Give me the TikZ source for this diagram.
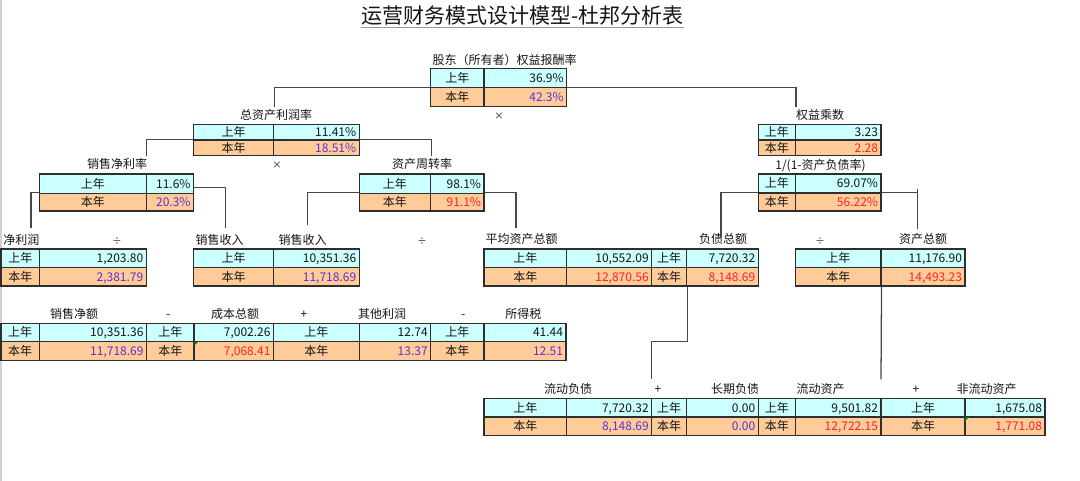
\documentclass[tikz,border=0pt]{standalone}
\usepackage{fontspec}
\setmainfont{Noto Sans CJK SC}
\usetikzlibrary{calc}
\definecolor{cyanc}{HTML}{CCFFFF}
\definecolor{orgc}{HTML}{FFCC99}
\definecolor{purc}{HTML}{5C30D2}
\definecolor{redc}{HTML}{FF2020}
\definecolor{bordc}{HTML}{2E2E2E}
\definecolor{txtc}{HTML}{151515}
\definecolor{connc}{HTML}{474747}
\newcommand\pur{\color{purc}}
\newcommand\rd{\color{redc}}
\tikzset{
  cellbox/.style={draw=bordc, line width=0.8pt, inner xsep=2.25pt, inner ysep=0pt,
    text height=7.7pt, text depth=1pt, font=\fontsize{9pt}{10pt}\selectfont, text=txtc},
  lab/.style={inner xsep=0pt, inner ysep=1.5pt, text height=7.7pt, text depth=1pt,
    font=\fontsize{9pt}{10pt}\selectfont, text=txtc},
  opsign/.style={lab, font=\fontsize{7pt}{8pt}\selectfont},
  conn/.style={draw=connc, line width=0.95pt},
}
% #1 name, #2 x0, #3 x1, #4 x2, #5 y0, #6 y1, #7 y2, #8 top value, #9 bottom value
\newcommand\dpblock[9]{%
  \pgfmathsetmacro\dpwa{(#3-#2)*0.75}%
  \pgfmathsetmacro\dpwb{(#4-#3)*0.75-4.5}%
  \pgfmathsetmacro\dpha{(#6-#5)*0.75}%
  \pgfmathsetmacro\dphb{(#7-#6)*0.75}%
  \node[cellbox,fill=cyanc,minimum width=\dpwa pt,minimum height=\dpha pt] (#1ul) at ({(#2+#3)/2},{(#5+#6)/2}) {上年};
  \node[cellbox,fill=cyanc,text width=\dpwb pt,align=right,minimum height=\dpha pt] (#1ur) at ({(#3+#4)/2},{(#5+#6)/2}) {#8};
  \node[cellbox,fill=orgc,minimum width=\dpwa pt,minimum height=\dphb pt] (#1ll) at ({(#2+#3)/2},{(#6+#7)/2}) {本年};
  \node[cellbox,fill=orgc,text width=\dpwb pt,align=right,minimum height=\dphb pt] (#1lr) at ({(#3+#4)/2},{(#6+#7)/2}) {#9};
}
\begin{document}
\begin{tikzpicture}[x=0.75pt,y=-0.75pt]
\useasboundingbox (0,0) rectangle (1080,481);
\fill[white] (0,0) rectangle (1080,481);
\draw[black!18, line width=0.8pt] (1,0) -- (1,481);

% title
\node[inner sep=0pt, text=txtc, font=\fontsize{15.75pt}{17pt}\selectfont] (title) at (522.5,15.5) {运营财务模式设计模型-杜邦分析表};
\draw[black!40, line width=0.5pt] (title.south west) ++(0,1.5) -- ($(title.south east)+(0,1.5)$);

% labels
\node[lab] (lT) at (504.5,60) {股东（所有者）权益报酬率};
\node[opsign] (m1) at (499,115) {×};
\node[lab] (lA2) at (276,115) {总资产利润率};
\node[lab] (lR1) at (820,115) {权益乘数};
\node[opsign] (m2) at (277,164.5) {×};
\node[lab] (lB1) at (117,164.5) {销售净利率};
\node[lab] (lB2) at (422,164.5) {资产周转率};
\node[lab] (lR2) at (820.5,165) {1/(1-资产负债率)};
\node[lab,anchor=west] (lC1) at (3,240) {净利润};
\node[opsign] (d1) at (117,240) {÷};
\node[lab] (lC2a) at (219.5,240) {销售收入};
\node[lab] (lC2b) at (302.5,240) {销售收入};
\node[opsign] (d2) at (422,240) {÷};
\node[lab] (lC3) at (521.5,239.5) {平均资产总额};
\node[lab] (lC4) at (723,239.5) {负债总额};
\node[opsign] (d3) at (820,240) {÷};
\node[lab] (lC5) at (923,239.5) {资产总额};
\node[lab] (lD1) at (74,314) {销售净额};
\node[lab] (s1) at (168.3,314) {-};
\node[lab] (lD2) at (235,314) {成本总额};
\node[lab] (s2) at (304,314) {+};
\node[lab] (lD3) at (382,314) {其他利润};
\node[lab] (s3) at (463.3,314) {-};
\node[lab] (lD4) at (523.3,314) {所得税};
\node[lab] (lE1) at (568,389) {流动负债};
\node[lab] (s4) at (658,389) {+};
\node[lab] (lE2) at (735,389) {长期负债};
\node[lab] (lE3) at (820.5,389) {流动资产};
\node[lab] (s5) at (916,389) {+};
\node[lab] (lE4) at (986.5,389) {非流动资产};

% tables
\dpblock{T}{430.7}{484}{566.7}{68.5}{87.7}{106.7}{36.9\%}{\pur 42.3\%}
\dpblock{A}{193.5}{273.8}{359.2}{124.3}{140}{155.5}{11.41\%}{\pur 18.51\%}
\dpblock{R}{758.3}{795.5}{881}{124.3}{140}{155.5}{3.23}{\rd 2.28}
\dpblock{B}{39.6}{146.3}{193.5}{174}{193.3}{211}{11.6\%}{\pur 20.3\%}
\dpblock{Q}{359.2}{430.7}{484}{174}{193.3}{211}{98.1\%}{\rd 91.1\%}
\dpblock{S}{758.3}{795.5}{881}{174}{193}{211}{69.07\%}{\rd 56.22\%}
\dpblock{Ca}{1}{39.6}{146.3}{249}{267.7}{286}{1,203.80}{\pur 2,381.79}
\dpblock{Cb}{193.5}{273.8}{359.2}{249}{267.7}{286}{10,351.36}{\pur 11,718.69}
\dpblock{Cc}{484}{566.7}{651.7}{249}{267.7}{286}{10,552.09}{\rd 12,870.56}
\dpblock{Cd}{651.7}{686.7}{758.3}{249}{267.7}{286}{7,720.32}{\rd 8,148.69}
\dpblock{Ce}{795.5}{881}{965}{249}{267.7}{286}{11,176.90}{\rd 14,493.23}
\dpblock{Da}{1}{39.5}{146.5}{323.3}{341.7}{360.7}{10,351.36}{\pur 11,718.69}
\dpblock{Db}{146.5}{194}{273.5}{323.3}{341.7}{360.7}{7,002.26}{\rd 7,068.41}
\dpblock{Dc}{273.5}{359.3}{430.7}{323.3}{341.7}{360.7}{12.74}{\pur 13.37}
\dpblock{Dd}{430.7}{484}{566}{323.3}{341.7}{360.7}{41.44}{\pur 12.51}
\dpblock{Ea}{484}{566.7}{651.7}{398.3}{417}{435.7}{7,720.32}{\pur 8,148.69}
\dpblock{Eb}{651.7}{686.7}{758.3}{398.3}{417}{435.7}{0.00}{\pur 0.00}
\dpblock{Ec}{758.3}{795.5}{881}{398.3}{417}{435.7}{9,501.82}{\rd 12,722.15}
\dpblock{Ed}{881}{965}{1045}{398.3}{417}{435.7}{1,675.08}{\rd 1,771.08}

% green corner marks
\fill[green!50!black] (Dblr.north west) ++(0.6,0.6) -- ++(4,0) -- ++(-4,4) -- cycle;
\fill[green!50!black] (Edlr.north west) ++(0.6,0.6) -- ++(4,0) -- ++(-4,4) -- cycle;

% connector end points
\coordinate (bL) at (31,228.3);
\coordinate (bR) at (225.6,228.3);
\coordinate (qL) at (307.2,225);
\coordinate (qR) at (516,228.3);
\coordinate (sL) at (721,236.7);
\coordinate (sT) at (917.3,189.3);
\coordinate (sR) at (917.3,229.3);
\coordinate (cdK) at (651.7,341.7);
\coordinate (cdB) at (651.7,379.3);
\coordinate (ceB) at (881,379.3);

% connectors
\draw[conn] (Tll.north west) -| (lA2.north -| Aul.east);
\draw[conn] (Tlr.north east) -| (lR1.north -| Rul.east);
\draw[conn] (All.north west) -| (lB1.north -| Bul.east);
\draw[conn] (Alr.north east) -| (lB2.north -| Qul.east);
\draw[conn] (Bll.north west) -| (bL);
\draw[conn] (Blr.north east) ++(0,-5) -| (bR);
\draw[conn] (Qll.north west) -| (qL);
\draw[conn] (Qlr.north east) -| (qR);
\draw[conn] (Sll.north west) -| (sL);
\draw[conn] (Slr.north east) -- (Slr.north east -| sT);
\draw[conn] (sT) -- (sR);
\draw[conn] (Cdll.south east) |- (cdK) -- (cdB);
\draw[conn] (Cell.south east) -- (ceB);
\end{tikzpicture}
\end{document}
